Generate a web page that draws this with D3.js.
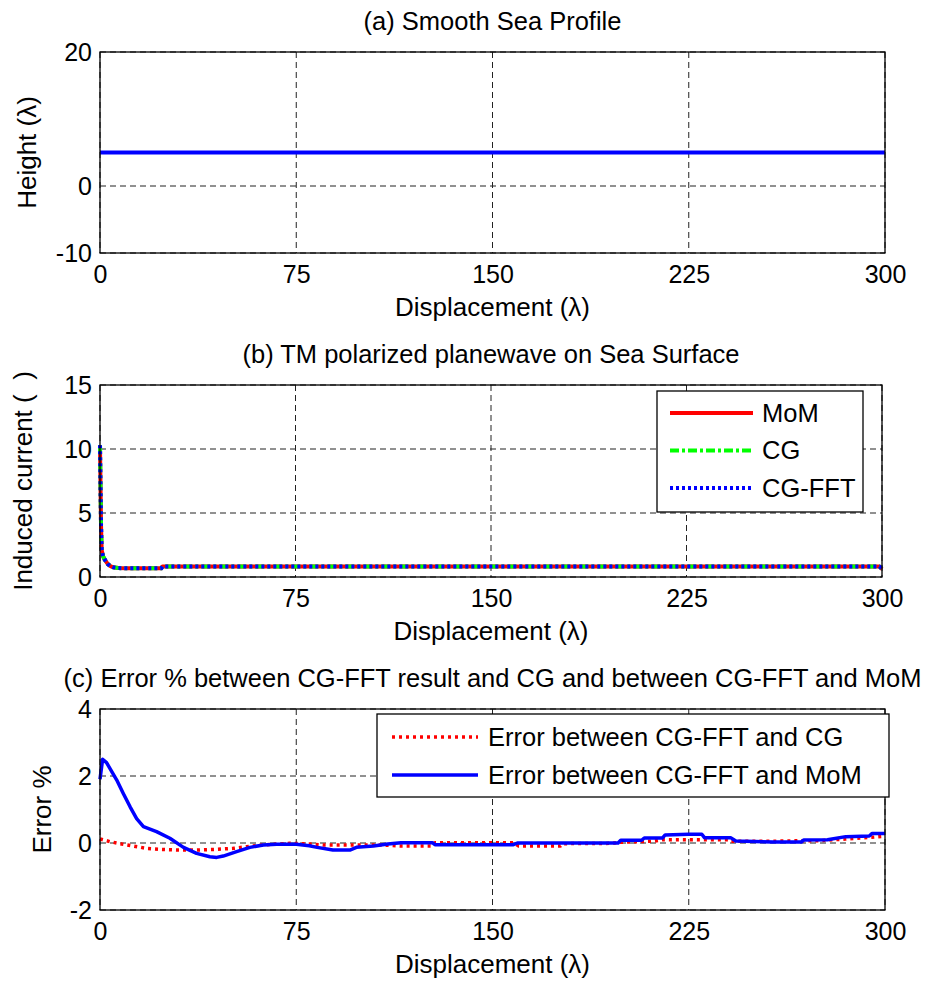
<!DOCTYPE html>
<html lang="en">
<head>
<meta charset="UTF-8">
<title>Smooth sea surface: MoM / CG / CG-FFT</title>
<script src="https://d3js.org/d3.v7.min.js"></script>
<style>
  body { margin: 0; background: #fff; }
  svg { display: block; font-family: "Liberation Sans", Arial, sans-serif; }
  .grid line { stroke: #222; stroke-width: 1; stroke-dasharray: 6,4; }
  .axis text { font-size: 25px; fill: #000; }
  .label { font-size: 26px; fill: #000; }
  .legend-text { font-size: 25.5px; fill: #000; }
  .title { font-size: 25.5px; fill: #000; }
</style>
</head>
<body>
<svg id="chart" width="928" height="987"></svg>
<script>
// ---- shared axis ticks ----
const xTicks = [0, 75, 150, 225, 300];
const yTicksA = [-10, 0, 20];
const yTicksB = [0, 5, 10, 15];
const yTicksC = [-2, 0, 2, 4];

// ---- (a) smooth sea profile ----
const seaX = [0, 75, 150, 225, 300];
const seaHeight = [5, 5, 5, 5, 5];

// ---- (b) induced current ----
const currentX = [0, 0.2, 0.4, 0.65, 1.2, 1.9, 3, 4, 5, 7, 10, 23.5, 24, 60, 120, 180, 240, 299, 300];
const momCurrent = [10.3, 7.0, 4.0, 2.1, 1.6, 1.33, 1.0, 0.85, 0.76, 0.7, 0.68, 0.68, 0.83, 0.83, 0.83, 0.83, 0.83, 0.83, 0.62];
const cgCurrent = [10.3, 7.0, 4.0, 2.1, 1.6, 1.33, 1.0, 0.85, 0.76, 0.7, 0.68, 0.68, 0.83, 0.83, 0.83, 0.83, 0.83, 0.83, 0.62];
const fftCurrent = [10.3, 7.0, 4.0, 2.1, 1.6, 1.33, 1.0, 0.85, 0.76, 0.7, 0.68, 0.68, 0.83, 0.83, 0.83, 0.83, 0.83, 0.83, 0.62];

// ---- (c) error % ----
const errCgX = [0, 3.8, 8.3, 12.7, 17.8, 22.9, 29.3, 36.9, 44.6, 51, 56, 62.4, 72.6, 80, 85.3, 101.9, 108, 115, 127, 128, 158, 160, 176, 177, 196, 198, 212, 215, 240, 241, 258, 260, 275, 285, 295, 300];
const errCg = [0.12, 0.04, -0.03, -0.09, -0.16, -0.19, -0.21, -0.21, -0.19, -0.16, -0.11, -0.06, -0.01, -0.03, -0.06, -0.06, -0.06, -0.09, -0.09, 0.01, 0.01, -0.09, -0.09, -0.02, -0.01, 0.02, 0.06, 0.1, 0.1, 0.05, 0.05, 0.06, 0.07, 0.12, 0.17, 0.2];
const errMomX = [0, 1, 2.5, 4, 6.4, 8.9, 11.5, 14, 16.6, 21.6, 26.7, 31.9, 36.9, 42, 44.6, 47.1, 52.2, 57.3, 62.4, 67.5, 75, 80, 83, 89, 95.5, 98, 104.5, 110, 115, 127, 128, 158, 159.5, 198, 199, 207, 208, 215, 216, 225, 230, 231, 241, 243, 257, 268, 269, 278, 285, 294, 295, 300];
const errMom = [1.9, 2.5, 2.4, 2.2, 1.88, 1.48, 1.08, 0.73, 0.49, 0.34, 0.14, -0.13, -0.31, -0.41, -0.43, -0.39, -0.26, -0.13, -0.06, -0.04, -0.04, -0.08, -0.13, -0.21, -0.21, -0.13, -0.09, -0.03, 0.01, 0.01, -0.05, -0.05, 0.0, 0.0, 0.08, 0.08, 0.15, 0.15, 0.24, 0.26, 0.26, 0.16, 0.16, 0.06, 0.03, 0.03, 0.09, 0.1, 0.19, 0.21, 0.28, 0.28];

const svg = d3.select("#chart");

function drawPanel(p) {
  const x = d3.scaleLinear().domain([0, 300]).range([p.left, p.right]);
  const y = d3.scaleLinear().domain(p.yDomain).range([p.bottom, p.top]);
  const g = svg.append("g");

  // dashed grid
  const grid = g.append("g").attr("class", "grid");
  grid.selectAll(".gx").data(xTicks).join("line").attr("class", "gx")
    .attr("x1", d => x(d)).attr("x2", d => x(d))
    .attr("y1", p.top).attr("y2", p.bottom);
  grid.selectAll(".gy").data(p.yTicks).join("line").attr("class", "gy")
    .attr("x1", p.left).attr("x2", p.right)
    .attr("y1", d => y(d)).attr("y2", d => y(d));

  // axes (labels only, box drawn separately)
  const fmt = d => String(d);
  const xAxis = g.append("g").attr("class", "axis")
    .attr("transform", `translate(0,${p.bottom})`)
    .call(d3.axisBottom(x).tickValues(xTicks).tickFormat(fmt).tickSize(0).tickPadding(12));
  const yAxis = g.append("g").attr("class", "axis")
    .attr("transform", `translate(${p.left},0)`)
    .call(d3.axisLeft(y).tickValues(p.yTicks).tickFormat(fmt).tickSize(0).tickPadding(8));
  xAxis.select(".domain").remove();
  yAxis.select(".domain").remove();
  g.selectAll(".axis text").attr("font-family", null).attr("font-size", null);

  // series
  p.series.forEach(s => {
    const pts = s.x.map((v, i) => [v, s.y[i]]);
    g.append("path")
      .datum(pts)
      .attr("fill", "none")
      .attr("stroke", s.color)
      .attr("stroke-width", s.width)
      .attr("stroke-dasharray", s.dash || null)
      .attr("stroke-linejoin", "round")
      .attr("d", d3.line().x(d => x(d[0])).y(d => y(d[1])));
  });

  // box
  g.append("rect")
    .attr("x", p.left).attr("y", p.top)
    .attr("width", p.right - p.left).attr("height", p.bottom - p.top)
    .attr("fill", "none").attr("stroke", "#000").attr("stroke-width", 1.3);

  // titles and labels
  g.append("text").attr("class", "title")
    .attr("x", (p.left + p.right) / 2).attr("y", p.top - 22)
    .attr("text-anchor", "middle").text(p.title);
  g.append("text").attr("class", "label")
    .attr("x", (p.left + p.right) / 2).attr("y", p.bottom + 63)
    .attr("text-anchor", "middle").text("Displacement (λ)");
  g.append("text").attr("class", "label")
    .attr("transform", `translate(${p.yLabelX},${(p.top + p.bottom) / 2}) rotate(-90)`)
    .attr("text-anchor", "middle")
    .style("white-space", "pre")
    .text(p.yLabel);

  // legend
  if (p.legend) {
    const L = p.legend;
    const lg = g.append("g");
    lg.append("rect")
      .attr("x", L.x).attr("y", L.y).attr("width", L.w).attr("height", L.h)
      .attr("fill", "#fff").attr("stroke", "#000").attr("stroke-width", 1.3);
    p.series.forEach((s, i) => {
      const cy = L.y + L.first + i * L.step;
      lg.append("line")
        .attr("x1", L.x + L.lineFrom).attr("x2", L.x + L.lineTo)
        .attr("y1", cy).attr("y2", cy)
        .attr("stroke", s.color).attr("stroke-width", s.width)
        .attr("stroke-dasharray", s.dash || null);
      lg.append("text").attr("class", "legend-text")
        .attr("x", L.x + L.textAt).attr("y", cy).attr("dy", "0.35em")
        .text(s.name);
    });
  }
}

drawPanel({
  left: 100, right: 885, top: 52, bottom: 253,
  yDomain: [-10, 20], yTicks: yTicksA,
  title: "(a) Smooth Sea Profile",
  yLabel: "Height (λ)", yLabelX: 36,
  series: [{ x: seaX, y: seaHeight, color: "#0000ff", width: 4 }]
});

drawPanel({
  left: 100, right: 882, top: 385, bottom: 577,
  yDomain: [0, 15], yTicks: yTicksB,
  title: "(b) TM polarized planewave on Sea Surface",
  yLabel: "Induced current (  )", yLabelX: 32,
  series: [
    { name: "MoM", x: currentX, y: momCurrent, color: "#ff0000", width: 4 },
    { name: "CG", x: currentX, y: cgCurrent, color: "#00ff00", width: 4, dash: "9,3,3,3" },
    { name: "CG-FFT", x: currentX, y: fftCurrent, color: "#0000ff", width: 4, dash: "3,3" }
  ],
  legend: { x: 657, y: 391, w: 206, h: 121, first: 22, step: 37.5, lineFrom: 13, lineTo: 96, textAt: 105 }
});

drawPanel({
  left: 100, right: 885, top: 709, bottom: 910,
  yDomain: [-2, 4], yTicks: yTicksC,
  title: "(c) Error % between CG-FFT result and CG and between CG-FFT and MoM",
  yLabel: "Error %", yLabelX: 51,
  series: [
    { name: "Error between CG-FFT and CG", x: errCgX, y: errCg, color: "#ff0000", width: 3.5, dash: "3,4" },
    { name: "Error between CG-FFT and MoM", x: errMomX, y: errMom, color: "#0000ff", width: 3.5 }
  ],
  legend: { x: 377, y: 714, w: 512, h: 83, first: 23, step: 38, lineFrom: 15, lineTo: 101, textAt: 111 }
});
</script>
</body>
</html>
